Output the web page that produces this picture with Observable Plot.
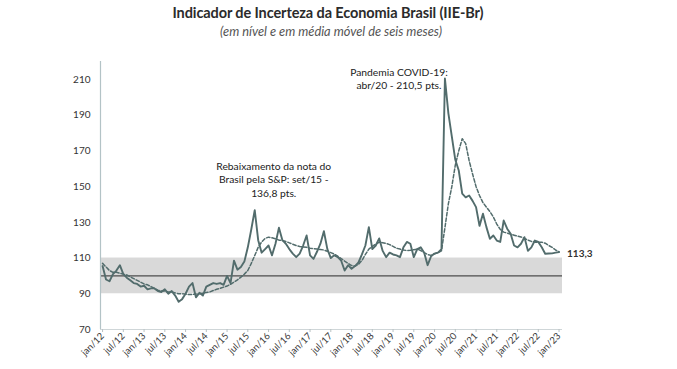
<!DOCTYPE html>
<html><head><meta charset="utf-8">
<script src="https://cdn.jsdelivr.net/npm/d3@7"></script>
<script src="https://cdn.jsdelivr.net/npm/@observablehq/plot@0.6"></script>
<style>
body{margin:0;background:#fff;font-family:Lato,"Open Sans",sans-serif;}
#head{position:relative;height:40px;width:677px;}
#title{position:absolute;left:0;width:656px;top:4px;text-align:center;font-weight:700;font-size:14.5px;color:#2b2b2b;letter-spacing:-0.1px;}
#sub{position:absolute;left:0;width:662px;top:23px;text-align:center;font-style:italic;font-size:12.8px;color:#555;}
</style></head><body>
<div id="head"><div id="title">Indicador de Incerteza da Economia Brasil (IIE-Br)</div><div id="sub">(em nível e em média móvel de seis meses)</div></div>
<div id="chart"></div>
<script>
// Monthly series, jan/12 .. jan/23
const iie = [
105.5, 98, 97, 101, 103, 106, 101, 99, 97.5, 96, 95.5, 94,
94.5, 92.5, 93, 93, 91.5, 91, 92.5, 90, 91.5, 89, 85.5, 87,
90, 94, 96, 88, 90.5, 89, 94, 95, 96, 95.5, 96, 95,
100, 96, 108.5, 103.5, 105, 108, 116, 126, 136.8, 120, 113, 115,
117, 111.5, 118, 127, 120, 118, 115, 112.5, 110.5, 112.5, 117, 122.6,
111.5, 109.5, 113.5, 118, 125, 115, 110, 111.5, 110.5, 108.5, 103, 106,
104, 105.5, 107.5, 112, 117, 127.3, 115, 117, 121, 114, 110.5, 113,
112, 111.5, 110.5, 116, 119, 118, 110.5, 115, 116, 113, 106, 111,
112.5, 113, 115, 210.5, 191, 178, 165, 159, 146, 144, 145, 142,
138.5, 128, 134.8, 127.3, 120.8, 122.6, 119.8, 119, 131, 126.4, 123.6, 117,
116, 118, 121.7, 114, 116, 119.8, 119, 116, 112.4, 112.5, 112.6, 113,
113.3
];
const mm6 = [
107, 105, 103, 102, 102, 101.5, 101, 100.5, 99.5, 98.5, 97.5, 96.5,
95.5, 95, 94, 93, 92, 91.5, 91.5, 91, 91, 90.5, 90, 90,
89.8, 89.6, 89.6, 89.8, 90, 90.3, 90.7, 91, 91.8, 92.5, 93, 93.7,
94.3, 95.3, 96.5, 97.8, 99.3, 101, 103, 107, 111.4, 116, 119, 121,
121.7, 121.3, 120.8, 120, 119.8, 119.3, 118.5, 117.7, 117, 116.5, 116.2, 116,
115.5, 115.2, 115, 114.8, 114.5, 113.8, 113, 112.2, 111, 109.7, 108.3, 107,
105.8, 105.5, 106.5, 108.6, 112, 115, 116.5, 117.8, 118.8, 118.6, 118.2, 117.5,
116.5, 115.5, 115, 114.5, 114.2, 114.3, 114.7, 115, 114.2, 113, 112, 111.5,
112.4, 113, 114, 127, 140.4, 150, 162, 170, 176.8, 174, 164.6, 157,
150, 145, 141, 138.5, 136, 133, 129, 126, 124.5, 124, 123.3, 122.8,
122.3, 121.8, 121, 120, 119.3, 118.9, 118.9, 118.9, 118.3, 117, 116, 114.5,
113.5
];
const xTickLabels = ["jan/12","jul/12","jan/13","jul/13","jan/14","jul/14","jan/15","jul/15","jan/16","jul/16","jan/17","jul/17","jan/18","jul/18","jan/19","jul/19","jan/20","jul/20","jan/21","jul/21","jan/22","jul/22","jan/23"];
const yTicks = [70, 90, 110, 130, 150, 170, 190, 210];
const band = [90, 110];
const reference = [100];
const noteSP = [{i: 44, v: 136.8, text: "Rebaixamento da nota do\nBrasil pela S&P: set/15 -\n136,8 pts."}];
const noteCovid = [{i: 99, v: 210.5, text: "Pandemia COVID-19:\nabr/20 - 210,5 pts."}];

const rows = iie.map((v, i) => ({i, v, m: mm6[i]}));
const last = rows[rows.length - 1];
const lineColor = "#526c6c";

const chart = Plot.plot({
  width: 677, height: 329,
  marginLeft: 100, marginRight: 115, marginTop: 21, marginBottom: 40,
  style: {fontFamily: "Lato, 'Open Sans', sans-serif", fontSize: "10px", color: "#3a3a3a", background: "#fff"},
  x: {type: "linear", domain: [-0.6, 133], axis: null},
  y: {domain: [70, 220], axis: null},
  marks: [
    Plot.rectY([band], {y1: d => d[0], y2: d => d[1], fill: "#d9d9d9"}),
    Plot.ruleY(reference, {stroke: "#4d4d4d", strokeWidth: 1.3}),
    Plot.ruleX([-0.6], {stroke: "#b3c3c6", strokeWidth: 1.2}),
    Plot.ruleY([70], {stroke: "#cfd6d8", strokeWidth: 1}),
    Plot.axisY({ticks: yTicks, tickSize: 0, tickPadding: 10, fontSize: 10, fill: "#333", label: null}),
    Plot.axisX({ticks: d3.range(0, iie.length, 6), tickFormat: i => xTickLabels[i / 6], tickRotate: -45, tickSize: 3, tickPadding: 2, fontSize: 9.5, stroke: "#b8c2c4", fill: "#3a3a3a", label: null}),
    Plot.lineY(rows, {x: "i", y: "m", stroke: lineColor, strokeWidth: 1.5, strokeDasharray: "3.5,2"}),
    Plot.lineY(rows, {x: "i", y: "v", stroke: lineColor, strokeWidth: 1.9}),
    Plot.text(noteSP, {x: "i", y: "v", text: "text", dx: 19, dy: -31, lineAnchor: "middle", lineHeight: 1.3, fontSize: 10.3, fill: "#222"}),
    Plot.text(noteCovid, {x: "i", y: "v", text: "text", dx: -46, dy: 0, lineAnchor: "middle", lineHeight: 1.3, fontSize: 10.3, fill: "#222"}),
    Plot.text([last], {x: "i", y: "v", text: d => d.v.toFixed(1).replace(".", ","), dx: 8, dy: 2, textAnchor: "start", fontSize: 10, fontWeight: 700, fill: "#333"})
  ]
});
document.getElementById("chart").appendChild(chart);
</script>
</body></html>
